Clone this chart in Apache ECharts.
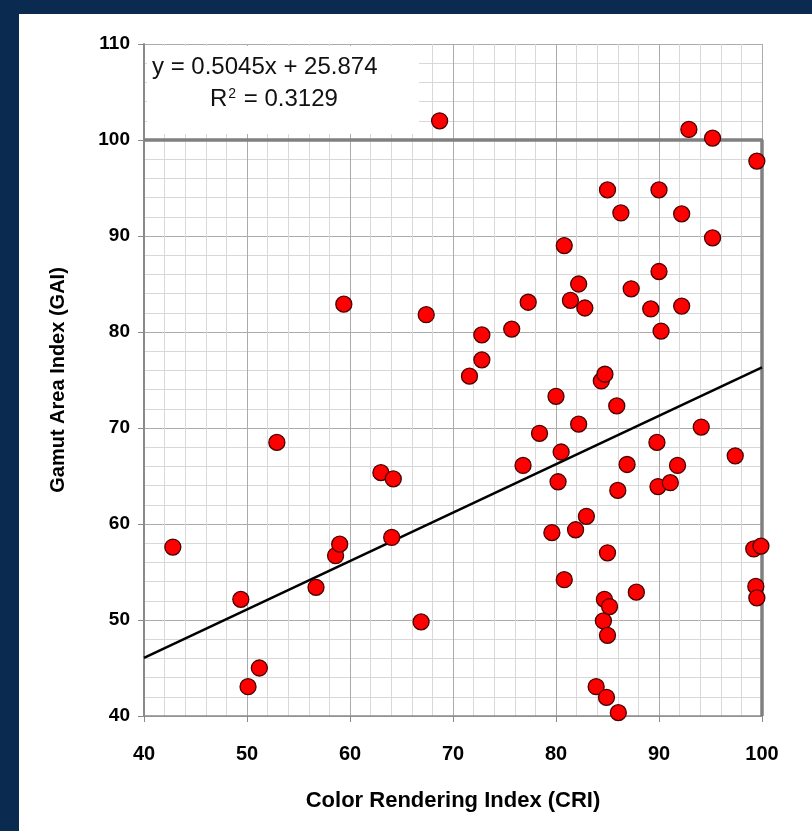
<!DOCTYPE html>
<html>
<head>
<meta charset="utf-8">
<script src="https://cdn.jsdelivr.net/npm/echarts@6/dist/echarts.min.js"></script>
<style>
  html, body { margin: 0; padding: 0; background: #0b2a50; }
  #chart { width: 812px; height: 831px; }
</style>
</head>
<body>
<div id="chart"></div>
<script>
// CRI / GAI readings (one pair per lamp)
const cri = [
  42.8, 49.4, 50.1, 51.2, 52.9, 56.7, 58.6, 59.0, 59.4, 63.0,
  64.2, 64.05, 66.9, 67.4, 68.7, 71.6, 72.8, 72.8, 75.7, 76.8,
  77.3, 78.4, 80.0, 79.6, 80.2, 80.5, 80.8, 80.8, 81.4, 82.2,
  81.9, 82.2, 82.8, 82.95, 83.9, 84.4, 84.75, 84.7, 84.6, 84.9,
  85.0, 85.0, 85.2, 85.0, 85.9, 86.0, 86.05, 86.3, 86.9, 87.3,
  87.8, 89.2, 89.8, 89.9, 90.0, 90.0, 90.2, 91.1, 91.8, 92.2,
  92.2, 92.9, 94.1, 95.2, 95.2, 97.4, 99.5, 99.2, 99.9, 99.4,
  99.5
]
const gai = [
  57.6, 52.15, 43.05, 45.0, 68.5, 53.4, 56.7, 57.9, 82.9, 65.35,
  64.7, 58.6, 49.8, 81.8, 102.0, 75.4, 79.7, 77.1, 80.3, 66.1,
  83.1, 69.45, 73.3, 59.1, 64.4, 67.5, 89.0, 54.2, 83.3, 85.0,
  59.4, 70.4, 82.5, 60.8, 43.05, 74.9, 75.6, 52.15, 49.9, 41.95,
  94.8, 57.0, 51.4, 48.4, 72.3, 63.5, 40.35, 92.4, 66.2, 84.5,
  52.9, 82.4, 68.5, 63.9, 94.8, 86.3, 80.1, 64.3, 66.1, 92.3,
  82.7, 101.1, 70.1, 100.2, 89.8, 67.1, 97.8, 57.4, 57.7, 53.5,
  52.3
]
// linear trend end points (y = 0.5045x + 25.874)
const trendX = [40, 100]
const trendY = [46.05, 76.32]
// grey reference frame (CRI 100 / GAI 100)
const frameX = [40, 100, 100]
const frameY = [100, 100, 40]

const xTicks = [40, 50, 60, 70, 80, 90, 100]
const yTicks = [40, 50, 60, 70, 80, 90, 100, 110]

const eqLine1 = 'y = 0.5045x + 25.874'
const eqR2 = '0.3129'

const zip = (a, b) => a.map((v, i) => [v, b[i]])

const FONT = 'Liberation Sans, Arial, sans-serif'

function boldText (size) {
  return { color: '#000', fontFamily: FONT, fontWeight: 'bold', fontSize: size }
}

function buildOption () {
  return {
    backgroundColor: '#0b2a50',
    animation: false,
    grid: { left: 144, right: 50, top: 44, bottom: 115 },
    graphic: [
      // white slide panel
      { type: 'rect', z: -10, shape: { x: 19, y: 14, width: 793, height: 817 }, style: { fill: '#fff' } },
      // equation box
      { type: 'rect', z: 5, shape: { x: 147, y: 46, width: 272, height: 88 }, style: { fill: '#fff' } },
      {
        type: 'text', z: 6, left: 152, top: 55,
        style: { text: eqLine1, fill: '#111', font: '24px "Liberation Sans", Arial, sans-serif' }
      },
      {
        type: 'text', z: 6, left: 210, top: 87,
        style: {
          text: '{a|R}{s|2}{a| = ' + eqR2 + '}',
          rich: {
            a: { fill: '#111', fontSize: 24, fontFamily: FONT },
            s: { fill: '#111', fontSize: 14, fontFamily: FONT, verticalAlign: 'top', padding: [0, 1, 11, 1] }
          }
        }
      }
    ],
    xAxis: {
      type: 'value',
      min: xTicks[0],
      max: xTicks[xTicks.length - 1],
      interval: 10,
      name: 'Color Rendering Index (CRI)',
      nameLocation: 'middle',
      nameGap: 74,
      nameTextStyle: boldText(22),
      axisLine: { show: true, onZero: false, lineStyle: { color: '#8a8a8a', width: 1.5 } },
      axisTick: { show: true, length: 6, lineStyle: { color: '#8a8a8a' } },
      axisLabel: Object.assign({ margin: 28 }, boldText(20)),
      splitLine: { show: true, lineStyle: { color: '#ababab', width: 1 } },
      minorTick: { show: false, splitNumber: 5 },
      minorSplitLine: { show: true, lineStyle: { color: '#d8d8d8', width: 1 } }
    },
    yAxis: {
      type: 'value',
      min: yTicks[0],
      max: yTicks[yTicks.length - 1],
      interval: 10,
      name: 'Gamut Area Index (GAI)',
      nameLocation: 'middle',
      nameGap: 76,
      nameTextStyle: boldText(20),
      axisLine: { show: true, onZero: false, lineStyle: { color: '#8a8a8a', width: 2 } },
      axisTick: { show: true, length: 6, lineStyle: { color: '#8a8a8a' } },
      axisLabel: Object.assign({ margin: 14 }, boldText(19)),
      splitLine: { show: true, lineStyle: { color: '#ababab', width: 1 } },
      minorTick: { show: false, splitNumber: 5 },
      minorSplitLine: { show: true, lineStyle: { color: '#d8d8d8', width: 1 } }
    },
    series: [
      {
        type: 'line',
        name: 'frame',
        data: zip(frameX, frameY),
        symbol: 'none',
        z: 3,
        lineStyle: { color: '#808080', width: 3.5 }
      },
      {
        type: 'line',
        name: 'trend',
        data: zip(trendX, trendY),
        symbol: 'none',
        z: 4,
        lineStyle: { color: '#000', width: 2.5 }
      },
      {
        type: 'scatter',
        name: 'lamps',
        data: zip(cri, gai),
        symbol: 'circle',
        symbolSize: 16,
        z: 10,
        itemStyle: { color: '#ff0000', opacity: 1, borderColor: '#4a0000', borderWidth: 1.3 }
      }
    ]
  }
}

const chart = echarts.init(document.getElementById('chart'), null, { renderer: 'canvas' })
chart.setOption(buildOption())
</script>
</body>
</html>
